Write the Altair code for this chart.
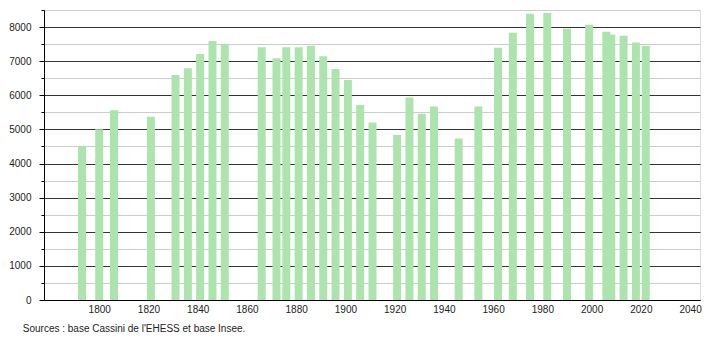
import altair as alt
import pandas as pd

years = [1793, 1800, 1806, 1821, 1831, 1836, 1841, 1846, 1851, 1866, 1872, 1876,
         1881, 1886, 1891, 1896, 1901, 1906, 1911, 1921, 1926, 1931, 1936, 1946,
         1954, 1962, 1968, 1975, 1982, 1990, 1999, 2006, 2008, 2013, 2018, 2022]
population = [4515, 5006, 5565, 5368, 6596, 6793, 7214, 7588, 7500, 7411, 7088, 7411,
              7411, 7450, 7147, 6773, 6449, 5713, 5203, 4838, 5939, 5457, 5673, 4731,
              5673, 7391, 7833, 8392, 8410, 7951, 8068, 7862, 7783, 7744, 7548, 7450]
x_ticks = [1800, 1820, 1840, 1860, 1880, 1900, 1920, 1940, 1960, 1980, 2000, 2020, 2040]
y_ticks = list(range(0, 8501, 500))
source = "Sources : base Cassini de l'EHESS et base Insee."

df = pd.DataFrame({"year": years, "pop": population})

FONT = "Liberation Sans"

chart = alt.Chart(df).mark_bar(size=8, color="#ade3ad").encode(
    x=alt.X("year:Q", scale=alt.Scale(domain=[1779.6, 2042], nice=False, zero=False),
            axis=alt.Axis(values=x_ticks, format="d", title=None, grid=False, ticks=False,
                          domainColor="#000", labelPadding=4, labelFontSize=10,
                          labelColor="#222", labelFont=FONT)),
    y=alt.Y("pop:Q", scale=alt.Scale(domain=[0, 8500], nice=False),
            axis=alt.Axis(values=y_ticks, format="d", title=None, domainColor="#000",
                          gridColor={"condition": {"test": "datum.value % 1000 === 0", "value": "#333"}, "value": "#cccccc"},
                          tickSize={"condition": {"test": "datum.value % 1000 === 0", "value": 5}, "value": 3},
                          tickColor="#000",
                          labelExpr="datum.value % 1000 === 0 ? datum.label : ''",
                          labelPadding=8, labelFontSize=10, labelColor="#222", labelFont=FONT)),
).properties(
    width=656, height=290,
    autosize="none",
    padding={"left": 44, "top": 10, "right": 10, "bottom": 40},
    title=alt.TitleParams(source, orient="bottom", anchor="start", dx=14, offset=10,
                          fontSize=10, font=FONT, fontWeight="normal", color="#222"),
).configure_view(stroke=None).configure(background="white")

chart.save("out.html", embed_options={"renderer": "svg", "actions": False})
